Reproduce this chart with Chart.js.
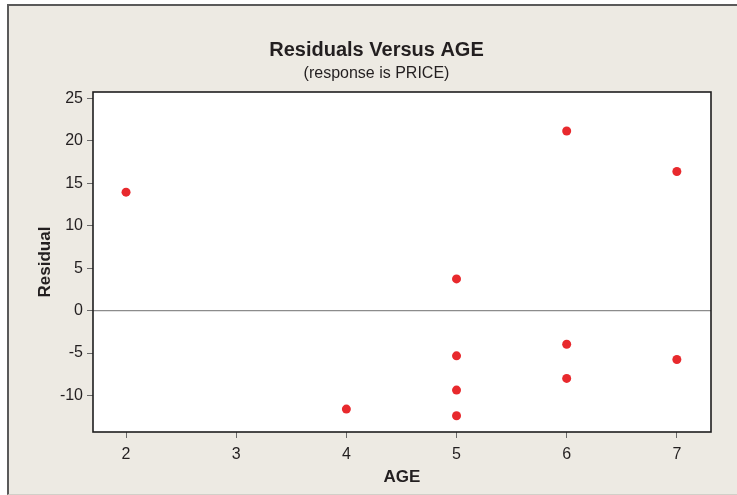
<!DOCTYPE html>
<html>
<head>
<meta charset="utf-8">
<script src="https://cdn.jsdelivr.net/npm/chart.js@4.4.1/dist/chart.umd.min.js"></script>
<style>
  html, body { margin: 0; padding: 0; background: #fff; overflow: hidden; }
  #frame {
    position: absolute; left: 7px; top: 4px; width: 760px; height: 488px;
    background: #edeae3;
    border-left: 2px solid #5a5a5a; border-top: 2px solid #5a5a5a;
    border-bottom: 1px solid #d2cfc8;
  }
  #wrap { position: absolute; left: 0; top: 0; width: 753px; height: 495px; }
</style>
</head>
<body>
<div id="frame"></div>
<div id="wrap"><canvas id="chart" width="753" height="495"></canvas></div>
<script>
// ───── Residuals vs AGE (response is PRICE) ─────────────────────────────────
const ages = [2, 4, 5, 5, 5, 5, 6, 6, 6, 7, 7];
const residuals = [13.95, -11.6, 3.73, -5.33, -9.36, -12.38, 21.16, -3.96, -7.99, 16.39, -5.76];

const xTicks = [2, 3, 4, 5, 6, 7];
const yTicks = [-10, -5, 0, 5, 10, 15, 20, 25];

const TEXT = '#231f20';
const FONT = "'Liberation Sans', Arial, sans-serif";

// White plot area, zero line and dark frame round it.
const plotFrame = {
  id: 'plotFrame',
  beforeDatasetsDraw(chart) {
    const { ctx, chartArea: a } = chart;
    ctx.save();
    ctx.fillStyle = '#ffffff';
    ctx.fillRect(a.left, a.top, a.right - a.left, a.bottom - a.top);
    const y0 = chart.scales.y.getPixelForValue(0);
    ctx.strokeStyle = '#8c8c8c';
    ctx.lineWidth = 1.3;
    ctx.beginPath();
    ctx.moveTo(a.left, y0);
    ctx.lineTo(a.right, y0);
    ctx.stroke();
    ctx.restore();
  },
  afterDraw(chart) {
    const { ctx, chartArea: a } = chart;
    ctx.save();
    ctx.strokeStyle = '#1e1e1e';
    ctx.lineWidth = 1.6;
    ctx.strokeRect(a.left, a.top, a.right - a.left, a.bottom - a.top);
    ctx.restore();
  },
};

new Chart(document.getElementById('chart'), {
  type: 'scatter',
  data: {
    datasets: [{
      label: 'Residual',
      data: ages.map((x, i) => ({ x, y: residuals[i] })),
      backgroundColor: '#e8292d',
      borderWidth: 0,
      pointRadius: 4.5,
      pointHoverRadius: 4.5,
    }],
  },
  options: {
    responsive: false,
    animation: false,
    layout: { padding: 0 },
    plugins: {
      legend: { display: false },
      tooltip: { enabled: false },
      title: {
        display: true,
        text: 'Residuals Versus AGE',
        color: TEXT,
        font: { family: FONT, size: 20, weight: 'bold' },
        padding: { top: 38, bottom: 2 },
      },
      subtitle: {
        display: true,
        text: '(response is PRICE)',
        color: TEXT,
        font: { family: FONT, size: 16 },
        padding: { top: 0, bottom: 8.8 },
      },
    },
    scales: {
      x: {
        type: 'linear',
        min: 1.7,
        max: 7.31,
        afterFit(scale) { scale.height = 63; },
        afterBuildTicks(scale) { scale.ticks = xTicks.map((v) => ({ value: v })); },
        border: { display: false },
        grid: { drawOnChartArea: false, drawTicks: true, tickLength: 6, tickColor: '#6a6a6a' },
        ticks: { color: TEXT, font: { family: FONT, size: 16 }, padding: 7 },
        title: {
          display: true,
          text: 'AGE',
          color: TEXT,
          font: { family: FONT, size: 17, weight: 'bold' },
          padding: { top: 2, bottom: 7 },
        },
      },
      y: {
        type: 'linear',
        min: -14.3,
        max: 25.75,
        afterFit(scale) { scale.width = 93; },
        afterBuildTicks(scale) { scale.ticks = yTicks.map((v) => ({ value: v })); },
        border: { display: false },
        grid: { drawOnChartArea: false, drawTicks: true, tickLength: 6, tickColor: '#6a6a6a' },
        ticks: { color: TEXT, font: { family: FONT, size: 16 }, padding: 4 },
        title: {
          display: true,
          text: 'Residual',
          color: TEXT,
          font: { family: FONT, size: 17, weight: 'bold' },
          padding: { top: 35, bottom: 0 },
        },
      },
      // empty right-hand axis, keeps the plot off the right edge
      yr: {
        type: 'linear',
        position: 'right',
        afterFit(scale) { scale.width = 42; },
        border: { display: false },
        grid: { display: false },
        ticks: { display: false },
      },
    },
  },
  plugins: [plotFrame],
});
</script>
</body>
</html>
